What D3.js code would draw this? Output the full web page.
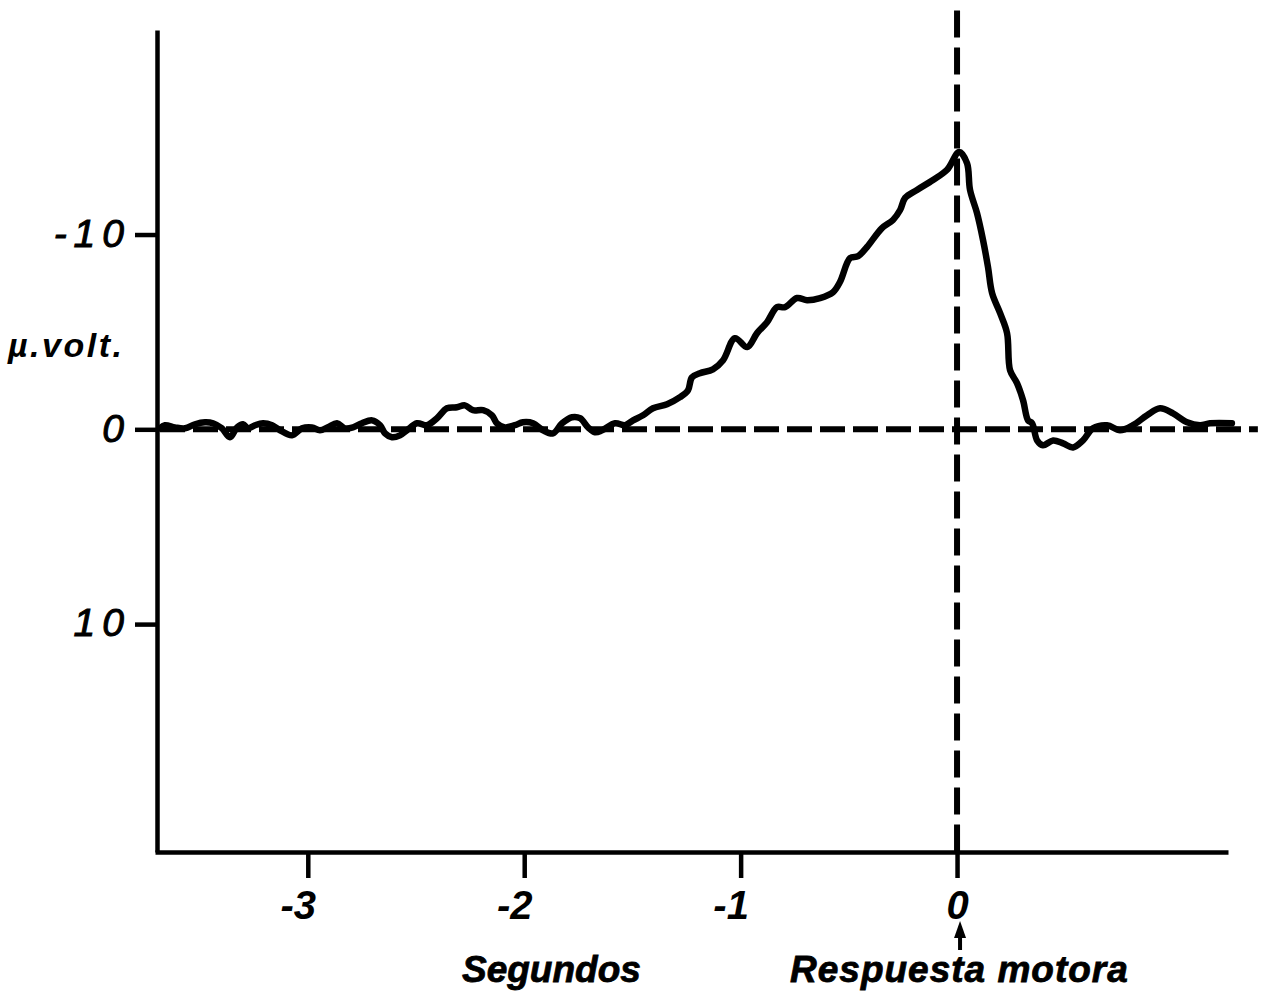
<!DOCTYPE html>
<html>
<head>
<meta charset="utf-8">
<script src="https://cdn.jsdelivr.net/npm/d3@7/dist/d3.min.js"></script>
<style>
  html, body { margin: 0; padding: 0; background: #fff; }
  svg { display: block; }
</style>
</head>
<body>
<script>
// Averaged potential preceding a voluntary movement (seconds relative to the motor response)
const timeSec = [
  -3.683, -3.660, -3.614, -3.567, -3.521, -3.475, -3.438, -3.397, -3.360, -3.327,
  -3.299, -3.276, -3.244, -3.207, -3.165, -3.128, -3.073, -3.027, -2.981, -2.944,
  -2.907, -2.865, -2.828, -2.791, -2.750, -2.703, -2.666, -2.643, -2.611, -2.574,
  -2.542, -2.495, -2.449, -2.403, -2.357, -2.311, -2.274, -2.237, -2.190, -2.149,
  -2.126, -2.089, -2.043, -2.006, -1.959, -1.913, -1.867, -1.825, -1.779, -1.742,
  -1.705, -1.673, -1.640, -1.580, -1.534, -1.497, -1.451, -1.405, -1.340, -1.280,
  -1.243, -1.225, -1.188, -1.128, -1.081, -1.026, -0.970, -0.924, -0.878, -0.832,
  -0.795, -0.739, -0.693, -0.633, -0.573, -0.541, -0.494, -0.457, -0.416, -0.347,
  -0.296, -0.263, -0.240, -0.185, -0.111, -0.046, 0.010, 0.046, 0.060, 0.092,
  0.120, 0.143, 0.162, 0.199, 0.231, 0.245, 0.277, 0.305, 0.328, 0.347,
  0.370, 0.397, 0.444, 0.490, 0.536, 0.582, 0.628, 0.693, 0.753, 0.813,
  0.878, 0.938, 0.998, 1.063, 1.123, 1.169, 1.270
];
// Negative values are drawn upwards
const microvolts = [
  -0.05, -0.21, -0.10, -0.05, -0.26, -0.36, -0.31, -0.05, 0.41, -0.10,
  -0.26, -0.05, -0.21, -0.31, -0.21, 0.05, 0.31, -0.05, -0.10, 0.05,
  -0.10, -0.31, -0.05, -0.10, -0.31, -0.46, -0.21, 0.21, 0.41, 0.31,
  0.05, -0.31, -0.21, -0.57, -1.08, -1.13, -1.23, -0.98, -0.98, -0.72,
  -0.31, -0.10, -0.21, -0.36, -0.31, 0.05, 0.21, -0.31, -0.62, -0.57,
  -0.10, 0.15, 0.05, -0.31, -0.21, -0.46, -0.72, -1.08, -1.29, -1.65,
  -2.01, -2.67, -2.88, -3.08, -3.55, -4.68, -4.22, -4.94, -5.50, -6.27,
  -6.27, -6.74, -6.63, -6.74, -7.04, -7.56, -8.79, -8.89, -9.36, -10.33,
  -10.75, -11.26, -11.88, -12.29, -12.80, -13.32, -14.24, -13.67, -12.29, -11.11,
  -9.72, -8.33, -6.99, -5.96, -4.94, -3.03, -2.37, -1.49, -0.46, -0.31,
  0.57, 0.82, 0.57, 0.72, 0.93, 0.57, -0.05, -0.21, 0.05, -0.21,
  -0.72, -1.08, -0.82, -0.36, -0.21, -0.31, -0.31
];

const xTicks = [-3, -2, -1, 0];
const xTickLabels = ["-3", "-2", "-1", "0"];
const yTicks = [-10, 0, 10];
const yTickLabels = ["-10", "0", "10"];

const xDomain = [-3.706, 1.252];
const yDomain = [-20.5, 21.7];
const baselineEnd = 1.39;      // the zero line runs a little past the time axis
const markerTop = -21.5;       // the t = 0 marker rises above the voltage axis

const yTitle = "\u00b5.volt.";
const xTitle = "Segundos";
const eventTitle = "Respuesta motora";

const W = 1270, H = 994;
const svg = d3.select("body").append("svg").attr("width", W).attr("height", H);
svg.append("rect").attr("width", W).attr("height", H).attr("fill", "#fff");

const x = d3.scaleLinear().domain(xDomain).range([155, 1228]);
const y = d3.scaleLinear().domain(yDomain).range([30, 852]);

const boldFont = "'Liberation Sans', Arial, sans-serif";

// Zero reference line (dashed)
svg.append("line")
  .attr("x1", x(xDomain[0]) + 5).attr("x2", x(baselineEnd))
  .attr("y1", y(0)).attr("y2", y(0))
  .attr("stroke", "#000").attr("stroke-width", 6)
  .attr("stroke-dasharray", "25,8");

// Motor response marker (dashed vertical at t = 0)
svg.append("line")
  .attr("x1", x(0)).attr("x2", x(0))
  .attr("y1", y(markerTop)).attr("y2", y(yDomain[1]))
  .attr("stroke", "#000").attr("stroke-width", 6)
  .attr("stroke-dasharray", "27,10");

// Voltage axis
const yAxis = d3.axisLeft(y).tickValues(yTicks)
  .tickFormat((d, i) => yTickLabels[i])
  .tickSize(22).tickSizeOuter(0).tickPadding(4);
const gy = svg.append("g").attr("transform", "translate(157,0)").call(yAxis);
gy.select(".domain").attr("stroke-width", 4.5);
gy.selectAll(".tick line").attr("stroke-width", 4.5);
gy.selectAll(".tick text")
  .attr("font-family", boldFont).attr("font-style", "italic")
  .attr("font-size", 39).attr("fill", "#000")
  .attr("stroke", "#000").attr("stroke-width", 1)
  .attr("letter-spacing", "7px")
  .attr("dy", "0.30em");

// Time axis
const xAxis = d3.axisBottom(x).tickValues(xTicks)
  .tickFormat((d, i) => xTickLabels[i])
  .tickSize(26).tickSizeOuter(0).tickPadding(13);
const gx = svg.append("g").attr("transform", "translate(0,852)").call(xAxis);
gx.select(".domain").attr("stroke-width", 4.5);
gx.selectAll(".tick line").attr("stroke-width", 4.5);
gx.selectAll(".tick text")
  .attr("font-family", boldFont).attr("font-style", "italic").attr("font-weight", "bold")
  .attr("font-size", 40).attr("fill", "#000")
  .attr("dx", d => d < 0 ? -10 : 0);

// Waveform
const line = d3.line()
  .x(d => x(d[0])).y(d => y(d[1]))
  .curve(d3.curveCatmullRom.alpha(0.5));
svg.append("path")
  .datum(timeSec.map((t, i) => [t, microvolts[i]]))
  .attr("d", line)
  .attr("fill", "none").attr("stroke", "#000")
  .attr("stroke-width", 6.5)
  .attr("stroke-linejoin", "round").attr("stroke-linecap", "round");

// Axis titles
svg.append("text")
  .attr("x", 8).attr("y", 357)
  .attr("font-family", boldFont).attr("font-style", "italic").attr("font-weight", "bold")
  .attr("font-size", 34).attr("letter-spacing", "2.5px")
  .text(yTitle);

svg.append("text")
  .attr("x", 462).attr("y", 982)
  .attr("font-family", boldFont).attr("font-style", "italic").attr("font-weight", "bold")
  .attr("font-size", 37)
  .attr("stroke", "#000").attr("stroke-width", 0.8)
  .text(xTitle);

svg.append("text")
  .attr("x", 790).attr("y", 982)
  .attr("font-family", boldFont).attr("font-style", "italic").attr("font-weight", "bold")
  .attr("font-size", 37).attr("letter-spacing", "1px")
  .attr("stroke", "#000").attr("stroke-width", 0.8)
  .text(eventTitle);

// Arrow from the event label up to t = 0
const ax = x(0) + 3;
svg.append("line")
  .attr("x1", ax).attr("x2", ax).attr("y1", 950).attr("y2", 932)
  .attr("stroke", "#000").attr("stroke-width", 4);
svg.append("path")
  .attr("d", d3.line()([[ax - 6, 938], [ax, 921], [ax + 6, 938]]) + "Z")
  .attr("fill", "#000");
</script>
</body>
</html>
